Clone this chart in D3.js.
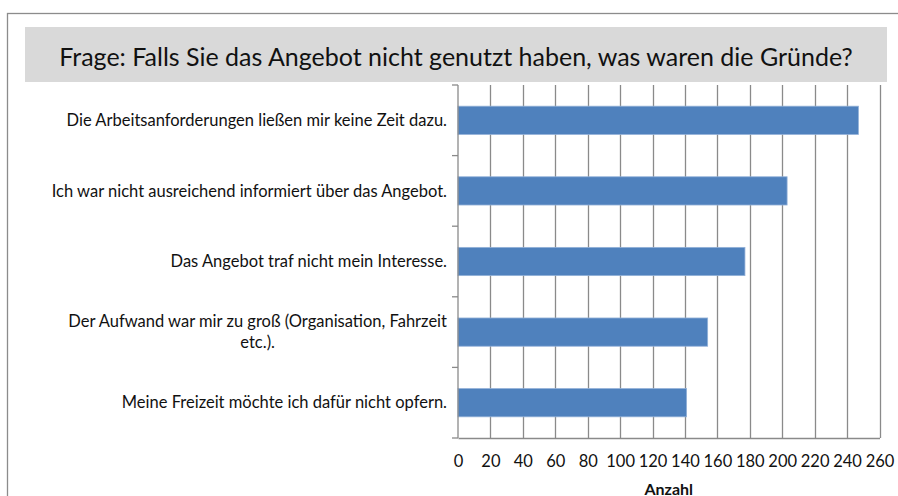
<!DOCTYPE html>
<html lang="de">
<head>
<meta charset="utf-8">
<title>Gründe</title>
<script src="https://cdn.jsdelivr.net/npm/d3@7"></script>
<style>
  body { margin: 0; background: #fff; }
  svg text { font-family: Lato, "Open Sans", sans-serif; fill: #111; }
</style>
</head>
<body>
<svg width="898" height="496"></svg>
<script>
  var titleText = 'Frage: Falls Sie das Angebot nicht genutzt haben, was waren die Gründe?';
  var reasons = [
    'Die Arbeitsanforderungen ließen mir keine Zeit dazu.',
    'Ich war nicht ausreichend informiert über das Angebot.',
    'Das Angebot traf nicht mein Interesse.',
    'Der Aufwand war mir zu groß (Organisation, Fahrzeit etc.).',
    'Meine Freizeit möchte ich dafür nicht opfern.'
  ];
  var counts = [247, 203, 177, 154, 141];
  var xTicks = [0, 20, 40, 60, 80, 100, 120, 140, 160, 180, 200, 220, 240, 260];
  var xTitle = 'Anzahl';

  var svg = d3.select('svg');

  // outer frame and title band
  svg.append('rect')
    .attr('x', 7.5).attr('y', 13.5).attr('width', 900).attr('height', 500)
    .attr('fill', 'none').attr('stroke', '#8c8c8c').attr('stroke-width', 1.3);
  svg.append('rect')
    .attr('x', 25).attr('y', 27).attr('width', 862).attr('height', 55)
    .attr('fill', '#d9d9d9');
  svg.append('text')
    .attr('x', 456).attr('y', 66)
    .attr('text-anchor', 'middle')
    .style('font-size', '25px')
    .text(titleText);

  var x = d3.scaleLinear().domain([0, 260]).range([458, 879.5]);
  var y = d3.scaleBand().domain(reasons).range([85, 438])
    .paddingInner(0.6).paddingOuter(0.3);

  // vertical gridlines
  svg.append('g').selectAll('line')
    .data(xTicks.slice(1))
    .enter().append('line')
    .attr('x1', d => Math.round(x(d)) + 0.5).attr('x2', d => Math.round(x(d)) + 0.5)
    .attr('y1', 85).attr('y2', 438)
    .attr('stroke', '#8a8a8a').attr('stroke-width', 1.3);

  // bars
  svg.append('g').selectAll('rect')
    .data(counts)
    .enter().append('rect')
    .attr('x', x(0))
    .attr('y', (d, i) => y(reasons[i]))
    .attr('width', d => x(d) - x(0))
    .attr('height', y.bandwidth())
    .attr('fill', '#4f81bd')
    .attr('stroke', '#93b1d8').attr('stroke-width', 0.8);

  // x axis
  var xAxis = svg.append('g')
    .attr('transform', 'translate(0,438)')
    .call(d3.axisBottom(x).tickValues(xTicks).tickSize(0).tickPadding(0));
  xAxis.select('.domain').attr('stroke', '#8a8a8a').attr('stroke-width', 1.3);
  xAxis.selectAll('text')
    .attr('y', 29).attr('dy', null)
    .style('font-size', '16.5px').attr('fill', '#111');

  // y axis with category separator ticks
  svg.append('line')
    .attr('x1', 458).attr('x2', 458).attr('y1', 85).attr('y2', 438)
    .attr('stroke', '#8a8a8a').attr('stroke-width', 1.3);
  svg.append('g').selectAll('line')
    .data(d3.range(reasons.length + 1))
    .enter().append('line')
    .attr('x1', 452).attr('x2', 458)
    .attr('y1', d => 85 + d * y.step()).attr('y2', d => 85 + d * y.step())
    .attr('stroke', '#8a8a8a').attr('stroke-width', 1.3);

  // category labels (wrap the long one like the original)
  var maxW = 405, labelSize = '16.5px';
  svg.append('g').selectAll('text')
    .data(reasons)
    .enter().append('text')
    .style('font-size', labelSize)
    .each(function(d) {
      var t = d3.select(this);
      var cy = y(d) + y.bandwidth() / 2;
      t.text(d);
      if (this.getComputedTextLength() <= maxW) {
        t.attr('x', 447).attr('y', cy).attr('dy', '0.35em').attr('text-anchor', 'end');
        return;
      }
      t.text(null);
      var words = d.split(' '), lines = [], line = [];
      var probe = svg.append('text').style('font-size', labelSize);
      words.forEach(w => {
        var trial = line.concat([w]).join(' ');
        probe.text(trial);
        if (probe.node().getComputedTextLength() > maxW && line.length) {
          lines.push(line.join(' '));
          line = [w];
        } else line.push(w);
      });
      lines.push(line.join(' '));
      probe.text(lines[0]);
      var w0 = probe.node().getComputedTextLength();
      probe.remove();
      var cx = 447 - w0 / 2;
      t.attr('text-anchor', 'middle');
      lines.forEach((l, k) => {
        t.append('tspan')
          .attr('x', cx)
          .attr('y', cy + (k - (lines.length - 1) / 2) * 21)
          .attr('dy', '0.35em')
          .text(l);
      });
    });

  svg.append('text')
    .attr('x', (x(0) + x(260)) / 2).attr('y', 494.5)
    .attr('text-anchor', 'middle')
    .style('font-size', '16px').style('font-weight', 'bold')
    .text(xTitle);
</script>
</body>
</html>
